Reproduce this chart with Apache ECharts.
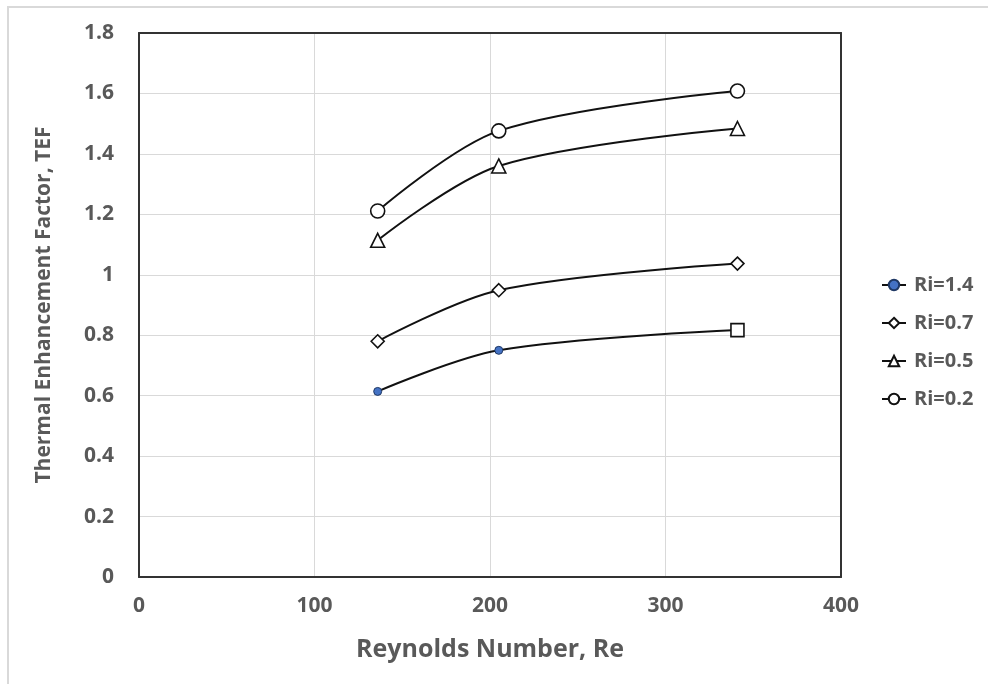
<!DOCTYPE html>
<html>
<head>
<meta charset="utf-8">
<title>Thermal Enhancement Factor vs Reynolds Number</title>
<script src="https://cdn.jsdelivr.net/npm/echarts@6/dist/echarts.min.js"></script>
<style>
  html, body { margin: 0; padding: 0; background: #ffffff; }
  #chart { width: 988px; height: 684px; }
</style>
</head>
<body>
<div id="chart"></div>
<script>
// Reynolds numbers at which TEF was evaluated
const reynolds = [136, 205, 341];

// Thermal enhancement factor for each Richardson number
const tefRi14 = [0.614, 0.750, 0.817];
const tefRi07 = [0.780, 0.949, 1.037];
const tefRi05 = [1.114, 1.360, 1.484];
const tefRi02 = [1.211, 1.476, 1.608];

const seriesNames = ['Ri=1.4', 'Ri=0.7', 'Ri=0.5', 'Ri=0.2'];

const xTicks = { min: 0, max: 400, interval: 100 };
const yTicks = { min: 0, max: 1.8, interval: 0.2 };

const FONT = '"Open Sans", Lato, sans-serif';
const TEXT = '#595959';
const LINE = '#111111';
const FRAME = { show: true, onZero: false, lineStyle: { color: '#333333', width: 2 } };

function pairs(values) {
  return reynolds.map((re, i) => [re, values[i]]);
}

function lineSeries(name, values, symbol, size, fill) {
  return {
    name: name,
    type: 'line',
    smooth: 0.33,
    data: pairs(values),
    symbol: symbol,
    symbolSize: size,
    showAllSymbol: true,
    lineStyle: { color: LINE, width: 2 },
    itemStyle: { color: fill, borderColor: LINE, borderWidth: 1.6 },
    emphasis: { disabled: true },
    z: 3
  };
}

const s14 = lineSeries(seriesNames[0], tefRi14, 'circle', 8, '#4472c4');
// the last Ri=1.4 point is drawn with a square marker
s14.data = s14.data.map((d, i) => i === s14.data.length - 1
  ? { value: d, symbol: 'rect', symbolSize: 13, itemStyle: { color: '#ffffff', borderColor: LINE, borderWidth: 1.6 } }
  : d);
s14.itemStyle.borderColor = '#1f3864';
s14.itemStyle.borderWidth = 1;

const chart = echarts.init(document.getElementById('chart'), null, { renderer: 'canvas' });

const hiddenAxisParts = {
  axisTick: { show: false },
  axisLabel: { show: false },
  splitLine: { show: false }
};

chart.setOption({
  backgroundColor: '#ffffff',
  animation: false,
  textStyle: { fontFamily: FONT },
  graphic: [{
    type: 'rect',
    shape: { x: 8, y: 7, width: 1000, height: 700 },
    style: { fill: 'none', stroke: '#d9d9d9', lineWidth: 2 },
    silent: true,
    z: -10
  }],
  grid: {
    left: 139, top: 33, right: 147, bottom: 107,
    show: false,
    containLabel: false
  },
  legend: {
    orient: 'vertical',
    left: 876,
    top: 270,
    itemWidth: 24,
    itemHeight: 13,
    itemGap: 18,
    data: seriesNames,
    textStyle: { color: TEXT, fontSize: 20, lineHeight: 20, fontWeight: 'bold', fontFamily: FONT, padding: [0, 0, 0, 3] },
    selectedMode: false
  },
  xAxis: [{
    type: 'value',
    min: xTicks.min, max: xTicks.max, interval: xTicks.interval,
    name: 'Reynolds Number, Re',
    nameLocation: 'middle',
    nameGap: 60,
    nameTextStyle: { color: TEXT, fontSize: 25, fontWeight: 'bold', fontFamily: FONT },
    axisLine: FRAME,
    axisTick: { show: false },
    axisLabel: { color: TEXT, fontSize: 21, fontWeight: 'bold', margin: 19, fontFamily: FONT },
    splitLine: { show: true, lineStyle: { color: '#d9d9d9', width: 1 } }
  }, Object.assign({
    type: 'value', position: 'top',
    min: xTicks.min, max: xTicks.max, interval: xTicks.interval,
    axisLine: FRAME
  }, hiddenAxisParts)],
  yAxis: [{
    type: 'value',
    min: yTicks.min, max: yTicks.max, interval: yTicks.interval,
    name: 'Thermal Enhancement Factor, TEF',
    nameLocation: 'middle',
    nameGap: 84,
    nameTextStyle: { color: TEXT, fontSize: 21, fontWeight: 'bold', fontFamily: FONT },
    axisLine: FRAME,
    axisTick: { show: false },
    axisLabel: {
      color: TEXT, fontSize: 21, fontWeight: 'bold', margin: 25, fontFamily: FONT,
      formatter: v => String(Math.round(v * 10) / 10)
    },
    splitLine: { show: true, lineStyle: { color: '#d9d9d9', width: 1 } }
  }, Object.assign({
    type: 'value', position: 'right',
    min: yTicks.min, max: yTicks.max, interval: yTicks.interval,
    axisLine: FRAME
  }, hiddenAxisParts)],
  series: [
    s14,
    lineSeries(seriesNames[1], tefRi07, 'diamond', 13, '#ffffff'),
    lineSeries(seriesNames[2], tefRi05, 'triangle', 14, '#ffffff'),
    lineSeries(seriesNames[3], tefRi02, 'circle', 14, '#ffffff')
  ]
});
</script>
</body>
</html>
